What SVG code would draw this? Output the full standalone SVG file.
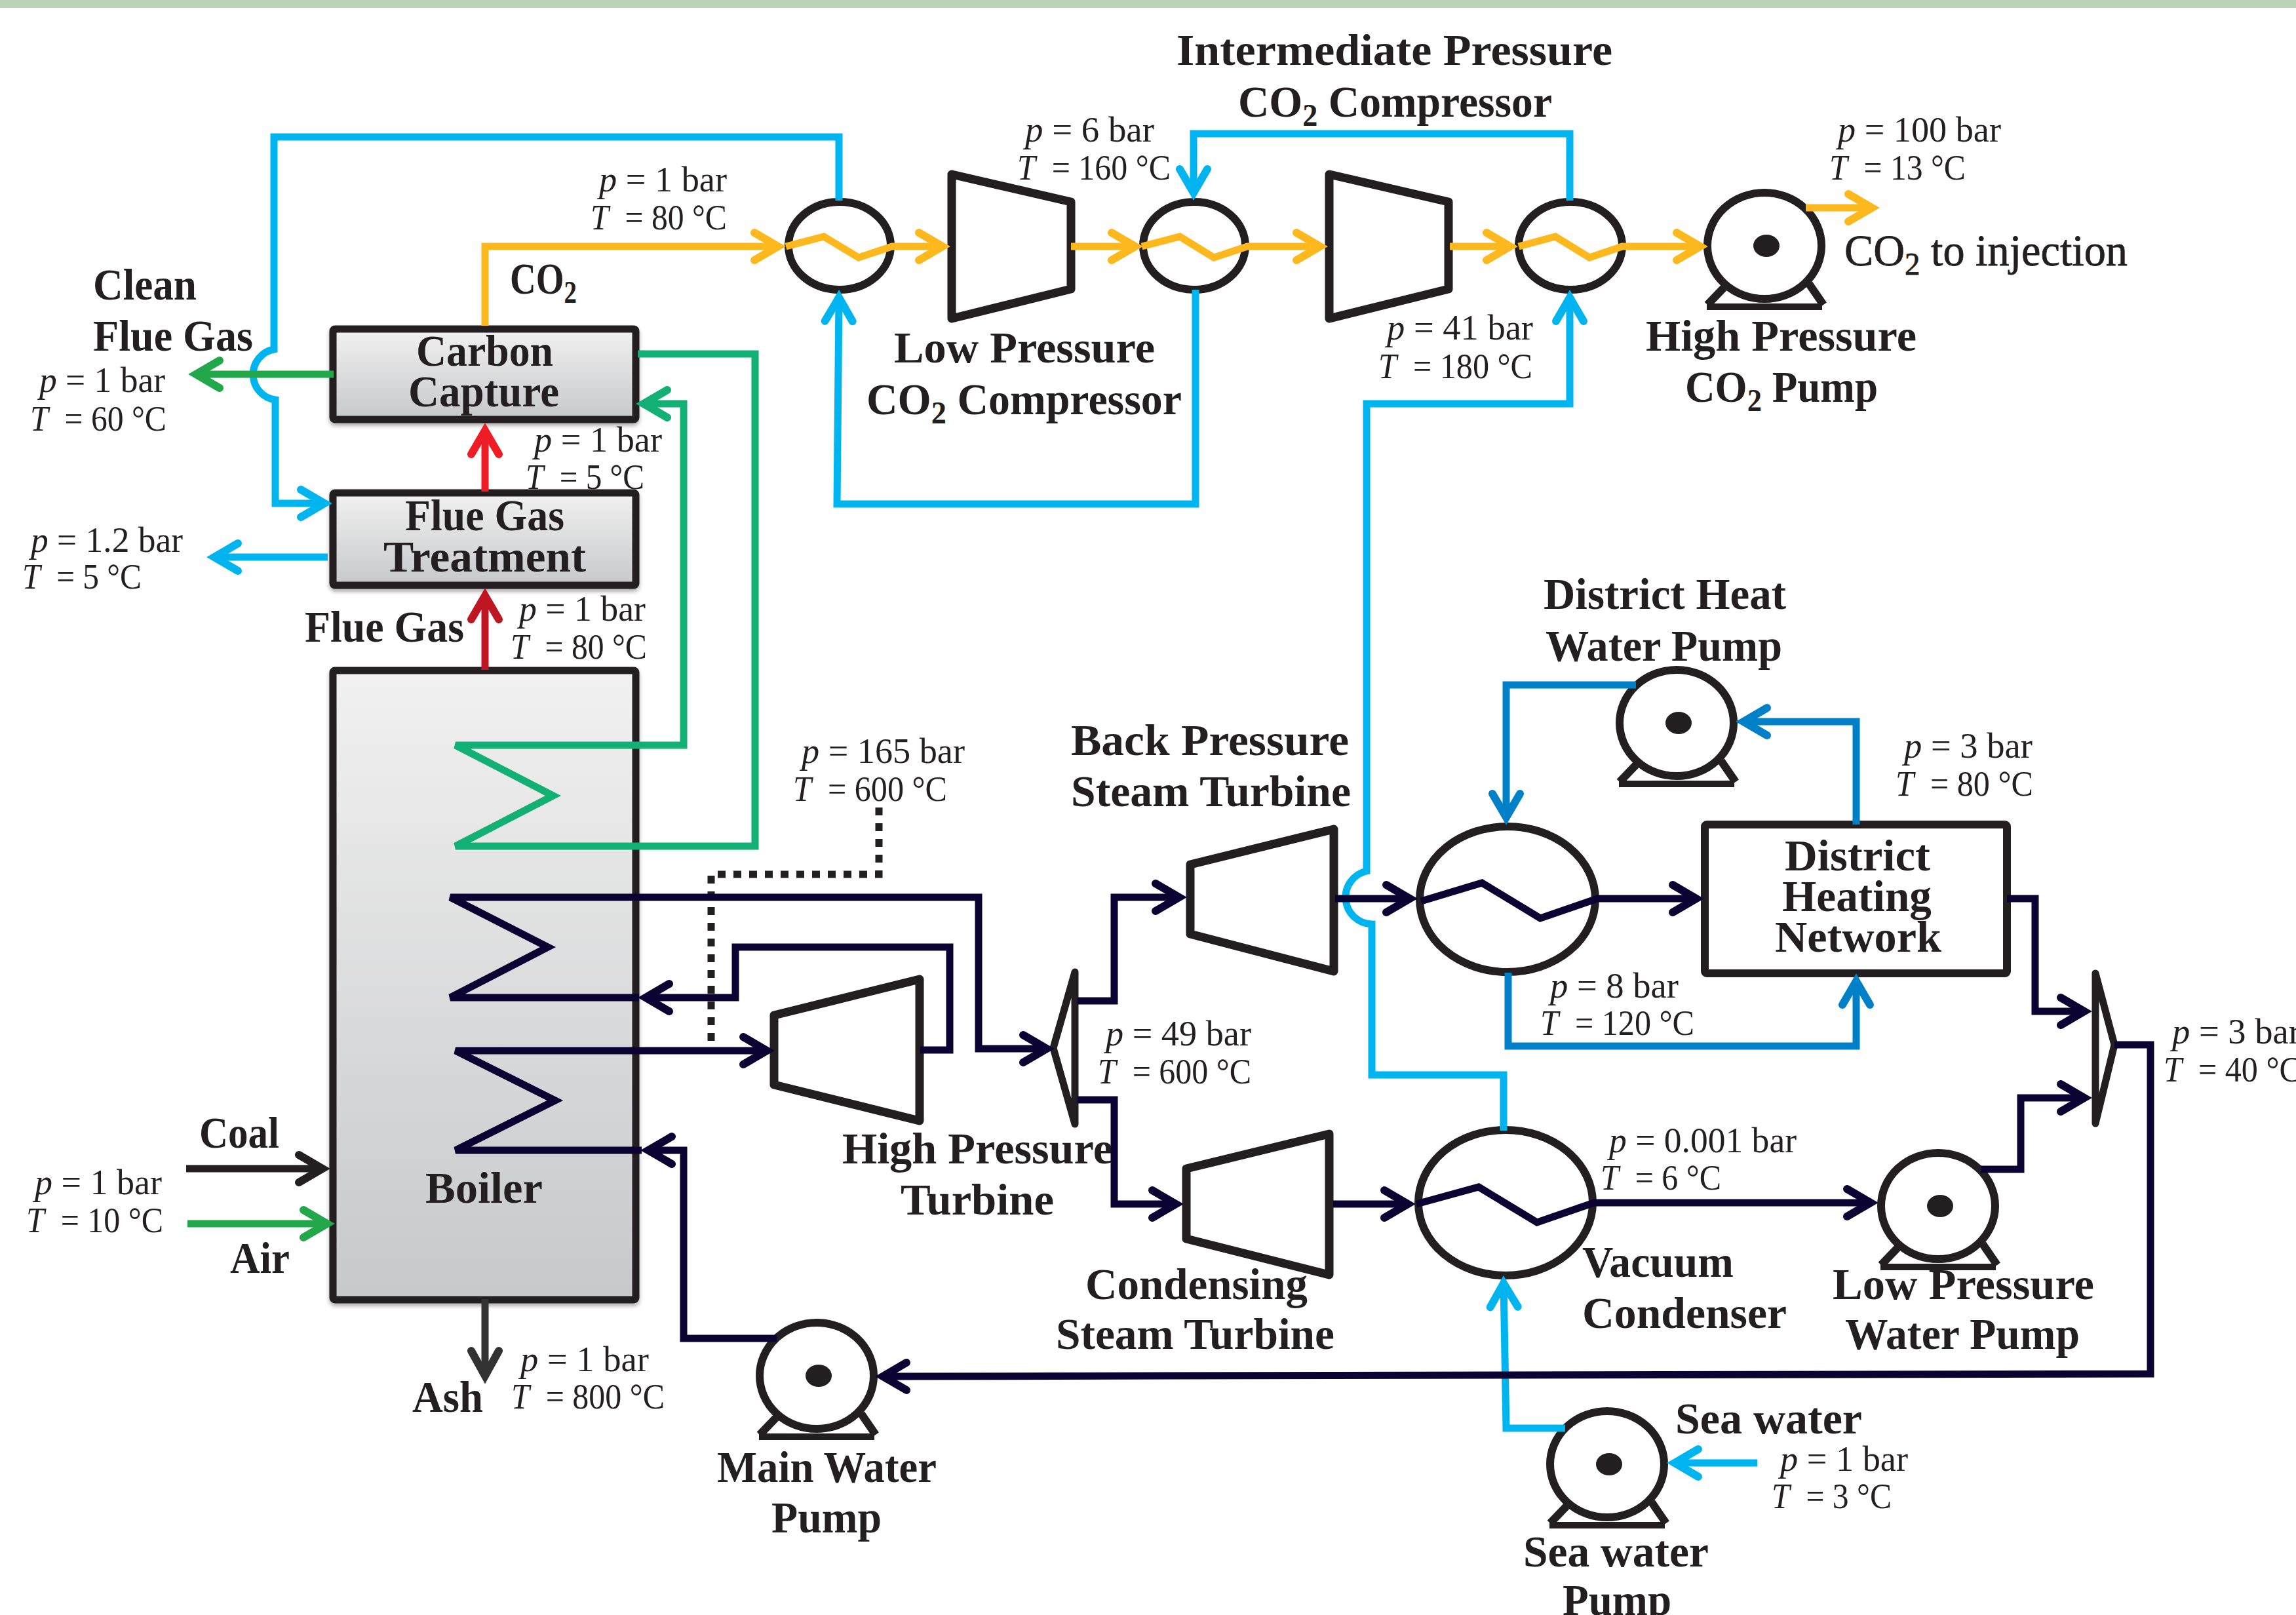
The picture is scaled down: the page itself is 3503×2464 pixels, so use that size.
<svg xmlns="http://www.w3.org/2000/svg" width="3503" height="2464" viewBox="0 0 3503 2464">
<style>
text{font-family:"Liberation Serif","Times New Roman",serif;fill:#231f20;transform:translateY(2px)}
.b{font-size:68px;font-weight:700}
.r{font-size:54px;font-weight:400}
.i{font-style:italic}
.s{font-size:48px}
.eq{fill:#fff;stroke:#231f20;stroke-width:13;stroke-linejoin:round}
.box{stroke:#231f20;stroke-width:11;stroke-linejoin:round;filter:drop-shadow(0 4px 3px #aaa)}
.hx{fill:#fff;stroke:#231f20;stroke-width:12}
.c{fill:none;stroke-width:11;stroke-linejoin:miter;stroke-linecap:butt}
.yel{stroke:#fdb81e;marker-end:url(#ay)}
.blu{stroke:#00b5ef;marker-end:url(#ab)}
.nav{stroke:#0b0433;marker-end:url(#an)}
.dbl{stroke:#0080c6;marker-end:url(#ad)}
.grn{stroke:#12b074;marker-end:url(#ag)}
.gr2{stroke:#22a84a;marker-end:url(#a2)}
</style>
<defs>
<linearGradient id="gb" x1="0" y1="0" x2="0" y2="1"><stop offset="0" stop-color="#f1f1f1"/><stop offset="1" stop-color="#c7c8ca"/></linearGradient>
<g id="pump">
<path d="M-62,64 L-87,90 M68,58 L90,90" fill="none" stroke="#231f20" stroke-width="12"/>
<path d="M-88,88 H88 V98 H-88 Z" fill="#231f20"/>
<ellipse cx="0" cy="0" rx="87" ry="81" class="hx"/>
<ellipse cx="3" cy="0" rx="20" ry="17" fill="#231f20"/>
</g>
<marker id="ay" viewBox="-60 -40 80 80" refX="0" refY="0" markerWidth="80" markerHeight="80" markerUnits="userSpaceOnUse" orient="auto"><path d="M-36,-21 L0,0 L-36,21" fill="none" stroke="#fdb81e" stroke-width="12" stroke-linecap="round"/></marker>
<marker id="ab" viewBox="-60 -40 80 80" refX="0" refY="0" markerWidth="80" markerHeight="80" markerUnits="userSpaceOnUse" orient="auto"><path d="M-36,-21 L0,0 L-36,21" fill="none" stroke="#00b5ef" stroke-width="12" stroke-linecap="round"/></marker>
<marker id="an" viewBox="-60 -40 80 80" refX="0" refY="0" markerWidth="80" markerHeight="80" markerUnits="userSpaceOnUse" orient="auto"><path d="M-36,-21 L0,0 L-36,21" fill="none" stroke="#0b0433" stroke-width="12" stroke-linecap="round"/></marker>
<marker id="ad" viewBox="-60 -40 80 80" refX="0" refY="0" markerWidth="80" markerHeight="80" markerUnits="userSpaceOnUse" orient="auto"><path d="M-36,-21 L0,0 L-36,21" fill="none" stroke="#0080c6" stroke-width="12" stroke-linecap="round"/></marker>
<marker id="ag" viewBox="-60 -40 80 80" refX="0" refY="0" markerWidth="80" markerHeight="80" markerUnits="userSpaceOnUse" orient="auto"><path d="M-36,-21 L0,0 L-36,21" fill="none" stroke="#12b074" stroke-width="12" stroke-linecap="round"/></marker>
<marker id="a2" viewBox="-60 -40 80 80" refX="0" refY="0" markerWidth="80" markerHeight="80" markerUnits="userSpaceOnUse" orient="auto"><path d="M-36,-21 L0,0 L-36,21" fill="none" stroke="#22a84a" stroke-width="12" stroke-linecap="round"/></marker>
<marker id="ar" viewBox="-60 -40 80 80" refX="0" refY="0" markerWidth="80" markerHeight="80" markerUnits="userSpaceOnUse" orient="auto"><path d="M-36,-21 L0,0 L-36,21" fill="none" stroke="#ee1c25" stroke-width="12" stroke-linecap="round"/></marker>
<marker id="ae" viewBox="-60 -40 80 80" refX="0" refY="0" markerWidth="80" markerHeight="80" markerUnits="userSpaceOnUse" orient="auto"><path d="M-36,-21 L0,0 L-36,21" fill="none" stroke="#be1622" stroke-width="12" stroke-linecap="round"/></marker>
<marker id="ak" viewBox="-60 -40 80 80" refX="0" refY="0" markerWidth="80" markerHeight="80" markerUnits="userSpaceOnUse" orient="auto"><path d="M-36,-21 L0,0 L-36,21" fill="none" stroke="#231f20" stroke-width="12" stroke-linecap="round"/></marker>
<marker id="as" viewBox="-60 -40 80 80" refX="0" refY="0" markerWidth="80" markerHeight="80" markerUnits="userSpaceOnUse" orient="auto"><path d="M-38,-21 L0,0 L-38,21" fill="none" stroke="#333" stroke-width="12" stroke-linecap="round"/></marker>
</defs>
<rect width="3503" height="2464" fill="#fff"/>
<rect width="3503" height="12" fill="#bad3b7"/>

<g id="nodes">
<g id="carbon-capture"><rect x="508" y="502" width="462" height="138" rx="3" fill="url(#gb)" class="box"/>
<text class="b" x="635" y="556" textLength="209" lengthAdjust="spacingAndGlyphs">Carbon</text>
<text class="b" x="623" y="618" textLength="230" lengthAdjust="spacingAndGlyphs">Capture</text></g>
<g id="flue-gas-treatment"><rect x="508" y="752" width="462" height="141" rx="3" fill="url(#gb)" class="box"/>
<text class="b" x="618" y="807" textLength="243" lengthAdjust="spacingAndGlyphs">Flue Gas</text>
<text class="b" x="585" y="870" textLength="309" lengthAdjust="spacingAndGlyphs">Treatment</text></g>
<g id="boiler"><rect x="508" y="1023" width="462" height="960" rx="3" fill="url(#gb)" class="box"/>
<text class="b" x="649" y="1833" textLength="179" lengthAdjust="spacingAndGlyphs">Boiler</text></g>
<g id="hx1"><ellipse cx="1281" cy="375" rx="78" ry="67" class="hx"/></g>
<g id="lp-compressor"><path d="M1452,266 L1634,308 V441 L1452,486 Z" class="eq"/>
<text class="b" x="1364" y="551" textLength="398" lengthAdjust="spacingAndGlyphs">Low Pressure</text>
<text class="b" x="1322" y="630" textLength="481" lengthAdjust="spacingAndGlyphs">CO<tspan class="s" dy="14">2</tspan><tspan dy="-14"> Compressor</tspan></text></g>
<g id="hx2"><ellipse cx="1822" cy="375" rx="78" ry="67" class="hx"/></g>
<g id="ip-compressor"><path d="M2028,266 L2210,308 V441 L2028,486 Z" class="eq"/>
<text class="b" x="1795" y="97" textLength="665" lengthAdjust="spacingAndGlyphs">Intermediate Pressure</text>
<text class="b" x="1889" y="176" textLength="479" lengthAdjust="spacingAndGlyphs">CO<tspan class="s" dy="14">2</tspan><tspan dy="-14"> Compressor</tspan></text></g>
<g id="hx3"><ellipse cx="2396" cy="375" rx="79" ry="67" class="hx"/></g>
<g id="hp-co2-pump"><use href="#pump" x="2692" y="375"/>
<text class="b" x="2511" y="533" textLength="413" lengthAdjust="spacingAndGlyphs">High Pressure</text>
<text class="b" x="2571" y="611" textLength="294" lengthAdjust="spacingAndGlyphs">CO<tspan class="s" dy="14">2</tspan><tspan dy="-14"> Pump</tspan></text></g>
<g id="hp-turbine"><path d="M1181,1549 L1403,1494 V1710 L1181,1655 Z" class="eq"/>
<text class="b" x="1285" y="1773" textLength="413" lengthAdjust="spacingAndGlyphs">High Pressure</text>
<text class="b" x="1374" y="1851" textLength="234" lengthAdjust="spacingAndGlyphs">Turbine</text></g>
<g id="splitter-1"><path d="M1607,1599 L1640,1483 V1715 Z" fill="none" stroke="#231f20" stroke-width="11" stroke-linejoin="round"/></g>
<g id="bp-turbine"><path d="M1816,1319 L2035,1265 V1482 L1816,1425 Z" class="eq"/>
<text class="b" x="1634" y="1150" textLength="424" lengthAdjust="spacingAndGlyphs">Back Pressure</text>
<text class="b" x="1634" y="1228" textLength="427" lengthAdjust="spacingAndGlyphs">Steam Turbine</text></g>
<g id="condensing-turbine"><path d="M1810,1783 L2028,1730 V1945 L1810,1890 Z" class="eq"/>
<text class="b" x="1656" y="1980" textLength="339" lengthAdjust="spacingAndGlyphs">Condensing</text>
<text class="b" x="1611" y="2056" textLength="425" lengthAdjust="spacingAndGlyphs">Steam Turbine</text></g>
<g id="district-hx"><ellipse cx="2300" cy="1372" rx="134" ry="111" class="hx"/></g>
<g id="vacuum-condenser"><ellipse cx="2297" cy="1835" rx="133" ry="111" class="hx"/>
<text class="b" x="2414" y="1946" textLength="231" lengthAdjust="spacingAndGlyphs">Vacuum</text>
<text class="b" x="2414" y="2024" textLength="312" lengthAdjust="spacingAndGlyphs">Condenser</text></g>
<g id="district-pump"><use href="#pump" x="2558" y="1103"/>
<text class="b" x="2355" y="927" textLength="370" lengthAdjust="spacingAndGlyphs">District Heat</text>
<text class="b" x="2358" y="1006" textLength="361" lengthAdjust="spacingAndGlyphs">Water Pump</text></g>
<g id="district-network"><rect x="2601" y="1258" width="461" height="227" rx="3" fill="#fff" stroke="#231f20" stroke-width="12" stroke-linejoin="round"/>
<text class="b" x="2723" y="1326" textLength="222" lengthAdjust="spacingAndGlyphs">District</text>
<text class="b" x="2719" y="1388" textLength="228" lengthAdjust="spacingAndGlyphs">Heating</text>
<text class="b" x="2708" y="1450" textLength="254" lengthAdjust="spacingAndGlyphs">Network</text></g>
<g id="splitter-2"><path d="M3226,1594 L3197,1485 V1714 Z" fill="none" stroke="#231f20" stroke-width="11" stroke-linejoin="round"/></g>
<g id="lp-water-pump"><use href="#pump" x="2957" y="1840"/>
<text class="b" x="2796" y="1980" textLength="399" lengthAdjust="spacingAndGlyphs">Low Pressure</text>
<text class="b" x="2815" y="2056" textLength="358" lengthAdjust="spacingAndGlyphs">Water Pump</text></g>
<g id="main-water-pump"><use href="#pump" x="1246" y="2099"/>
<text class="b" x="1094" y="2259" textLength="335" lengthAdjust="spacingAndGlyphs">Main Water</text>
<text class="b" x="1177" y="2336" textLength="168" lengthAdjust="spacingAndGlyphs">Pump</text></g>
<g id="sea-water-pump"><use href="#pump" x="2452" y="2234"/>
<text class="b" x="2324" y="2388" textLength="283" lengthAdjust="spacingAndGlyphs">Sea water</text>
<text class="b" x="2384" y="2462" textLength="166" lengthAdjust="spacingAndGlyphs">Pump</text></g>
</g>

<g id="connectors">
<path class="c yel" d="M740,497 V376 H1187"/>
<path class="c yel" d="M1199,376 L1257,361 L1310,393 L1361,376 H1438"/>
<path class="c yel" d="M1634,376 H1732"/>
<path class="c yel" d="M1742,376 L1800,361 L1852,393 L1903,376 H2014"/>
<path class="c yel" d="M2212,376 H2304"/>
<path class="c yel" d="M2317,376 L2373,361 L2425,393 L2475,376 H2594"/>
<path class="c yel" d="M2755,317 H2856"/>
<path class="c blu" d="M1280,306 V209 H418 V533 A39,39 0 0 0 420,610 V768 H495"/>
<path class="c blu" d="M500,850 H327"/>
<path class="c blu" d="M1824,442 V769 H1277 L1280,454"/>
<path class="c blu" d="M2395,306 V204 H1821 V294"/>
<path class="c blu" d="M2294,1725 V1640 H2093 V1410 A41,41 0 0 1 2085,1329 V616 H2395 V454"/>
<path class="c blu" d="M2388,2179 H2298 L2294,1958"/>
<path class="c blu" d="M2681,2232 H2555"/>
<path class="c grn" d="M973,540 H1152 V1291 H695 L844,1214 L695,1137 H1043 V616 H982"/>
<path class="c gr2" d="M509,571 H299"/>
<path class="c gr2" d="M286,1867 H499"/>
<path class="c" stroke="#ee1c25" marker-end="url(#ar)" d="M740,750 V657"/>
<path class="c" stroke="#be1622" marker-end="url(#ae)" d="M740,1022 V909"/>
<path class="c" stroke="#231f20" marker-end="url(#ak)" d="M284,1783 H492"/>
<path class="c" stroke="#333" marker-end="url(#as)" d="M740,1982 V2099"/>
<path class="c" stroke="#231f20" stroke-dasharray="12 12" d="M1341,1232 V1334 H1085 V1594"/>
<path class="c nav" d="M1404,1602 H1449 V1445 H1122 V1522 H985"/>
<path class="c nav" d="M975,1522 H687 L836,1445 L687,1369 H1493 V1600 H1597"/>
<path class="c nav" d="M1185,2042 H1043 V1755 H989"/>
<path class="c nav" d="M979,1755 H695 L847,1679 L695,1603 H1170"/>
<path class="c nav" d="M1644,1527 H1700 V1369 H1799"/>
<path class="c nav" d="M1644,1678 H1700 V1837 H1794"/>
<path class="c nav" d="M2037,1371 H2151"/>
<path class="c nav" d="M2168,1375 L2261,1347 L2350,1401 L2437,1371 H2588"/>
<path class="c nav" d="M2034,1837 H2148"/>
<path class="c nav" d="M2161,1837 L2256,1811 L2345,1865 L2432,1835 H2854"/>
<path class="c nav" d="M3022,1784 H3083 V1675 H3180"/>
<path class="c nav" d="M3062,1371 H3105 V1543 H3180"/>
<path class="c nav" d="M3226,1594 H3281 V2096 L1347,2100"/>
<path class="c dbl" d="M2496,1045 H2298 V1247"/>
<path class="c dbl" d="M2832,1258 V1101 H2660"/>
<path class="c dbl" d="M2301,1484 V1596 H2832 V1497"/>
</g>

<g id="labels">
<text class="b" x="142" y="455" textLength="158" lengthAdjust="spacingAndGlyphs">Clean</text>
<text class="b" x="142" y="533" textLength="244" lengthAdjust="spacingAndGlyphs">Flue Gas</text>
<text class="b" x="778" y="446" textLength="102" lengthAdjust="spacingAndGlyphs">CO<tspan class="s" dy="14">2</tspan></text>
<text class="b" x="465" y="977" textLength="243" lengthAdjust="spacingAndGlyphs">Flue Gas</text>
<text class="b" x="304" y="1749" textLength="122" lengthAdjust="spacingAndGlyphs">Coal</text>
<text class="b" x="351" y="1940" textLength="91" lengthAdjust="spacingAndGlyphs">Air</text>
<text class="b" x="629" y="2152" textLength="108" lengthAdjust="spacingAndGlyphs">Ash</text>
<text class="b" x="2556" y="2185" textLength="285" lengthAdjust="spacingAndGlyphs">Sea water</text>
<text class="b" style="font-weight:400;stroke:#231f20;stroke-width:.8px" x="2814" y="403" textLength="432" lengthAdjust="spacingAndGlyphs">CO<tspan class="s" dy="14">2</tspan><tspan dy="-14"> to injection</tspan></text>

<text class="r" x="914" y="290" textLength="195" lengthAdjust="spacingAndGlyphs"><tspan class="i">p</tspan> = 1 bar</text>
<text class="r" x="901" y="348" textLength="208" lengthAdjust="spacingAndGlyphs"><tspan class="i">T</tspan>&#160; = 80 °C</text>
<text class="r" x="60" y="596" textLength="192" lengthAdjust="spacingAndGlyphs"><tspan class="i">p</tspan> = 1 bar</text>
<text class="r" x="46" y="655" textLength="208" lengthAdjust="spacingAndGlyphs"><tspan class="i">T</tspan>&#160; = 60 °C</text>
<text class="r" x="815" y="687" textLength="195" lengthAdjust="spacingAndGlyphs"><tspan class="i">p</tspan> = 1 bar</text>
<text class="r" x="802" y="744" textLength="181" lengthAdjust="spacingAndGlyphs"><tspan class="i">T</tspan>&#160; = 5 °C</text>
<text class="r" x="47" y="840" textLength="232" lengthAdjust="spacingAndGlyphs"><tspan class="i">p</tspan> = 1.2 bar</text>
<text class="r" x="34" y="896" textLength="182" lengthAdjust="spacingAndGlyphs"><tspan class="i">T</tspan>&#160; = 5 °C</text>
<text class="r" x="792" y="945" textLength="193" lengthAdjust="spacingAndGlyphs"><tspan class="i">p</tspan> = 1 bar</text>
<text class="r" x="779" y="1003" textLength="208" lengthAdjust="spacingAndGlyphs"><tspan class="i">T</tspan>&#160; = 80 °C</text>
<text class="r" x="1564" y="214" textLength="197" lengthAdjust="spacingAndGlyphs"><tspan class="i">p</tspan> = 6 bar</text>
<text class="r" x="1552" y="272" textLength="234" lengthAdjust="spacingAndGlyphs"><tspan class="i">T</tspan>&#160; = 160 °C</text>
<text class="r" x="2116" y="516" textLength="223" lengthAdjust="spacingAndGlyphs"><tspan class="i">p</tspan> = 41 bar</text>
<text class="r" x="2103" y="575" textLength="235" lengthAdjust="spacingAndGlyphs"><tspan class="i">T</tspan>&#160; = 180 °C</text>
<text class="r" x="2804" y="214" textLength="249" lengthAdjust="spacingAndGlyphs"><tspan class="i">p</tspan> = 100 bar</text>
<text class="r" x="2791" y="272" textLength="208" lengthAdjust="spacingAndGlyphs"><tspan class="i">T</tspan>&#160; = 13 °C</text>
<text class="r" x="1223" y="1162" textLength="249" lengthAdjust="spacingAndGlyphs"><tspan class="i">p</tspan> = 165 bar</text>
<text class="r" x="1210" y="1220" textLength="235" lengthAdjust="spacingAndGlyphs"><tspan class="i">T</tspan>&#160; = 600 °C</text>
<text class="r" x="2905" y="1154" textLength="196" lengthAdjust="spacingAndGlyphs"><tspan class="i">p</tspan> = 3 bar</text>
<text class="r" x="2892" y="1212" textLength="210" lengthAdjust="spacingAndGlyphs"><tspan class="i">T</tspan>&#160; = 80 °C</text>
<text class="r" x="2365" y="1520" textLength="196" lengthAdjust="spacingAndGlyphs"><tspan class="i">p</tspan> = 8 bar</text>
<text class="r" x="2350" y="1577" textLength="235" lengthAdjust="spacingAndGlyphs"><tspan class="i">T</tspan>&#160; = 120 °C</text>
<text class="r" x="1687" y="1593" textLength="222" lengthAdjust="spacingAndGlyphs"><tspan class="i">p</tspan> = 49 bar</text>
<text class="r" x="1675" y="1651" textLength="234" lengthAdjust="spacingAndGlyphs"><tspan class="i">T</tspan>&#160; = 600 °C</text>
<text class="r" x="3314" y="1590" textLength="196" lengthAdjust="spacingAndGlyphs"><tspan class="i">p</tspan> = 3 bar</text>
<text class="r" x="3301" y="1648" textLength="210" lengthAdjust="spacingAndGlyphs"><tspan class="i">T</tspan>&#160; = 40 °C</text>
<text class="r" x="53" y="1820" textLength="194" lengthAdjust="spacingAndGlyphs"><tspan class="i">p</tspan> = 1 bar</text>
<text class="r" x="40" y="1878" textLength="209" lengthAdjust="spacingAndGlyphs"><tspan class="i">T</tspan>&#160; = 10 °C</text>
<text class="r" x="794" y="2090" textLength="196" lengthAdjust="spacingAndGlyphs"><tspan class="i">p</tspan> = 1 bar</text>
<text class="r" x="780" y="2147" textLength="234" lengthAdjust="spacingAndGlyphs"><tspan class="i">T</tspan>&#160; = 800 °C</text>
<text class="r" x="2455" y="1756" textLength="286" lengthAdjust="spacingAndGlyphs"><tspan class="i">p</tspan> = 0.001 bar</text>
<text class="r" x="2442" y="1813" textLength="184" lengthAdjust="spacingAndGlyphs"><tspan class="i">T</tspan>&#160; = 6 °C</text>
<text class="r" x="2716" y="2242" textLength="195" lengthAdjust="spacingAndGlyphs"><tspan class="i">p</tspan> = 1 bar</text>
<text class="r" x="2703" y="2299" textLength="183" lengthAdjust="spacingAndGlyphs"><tspan class="i">T</tspan>&#160; = 3 °C</text>
</g>
</svg>
